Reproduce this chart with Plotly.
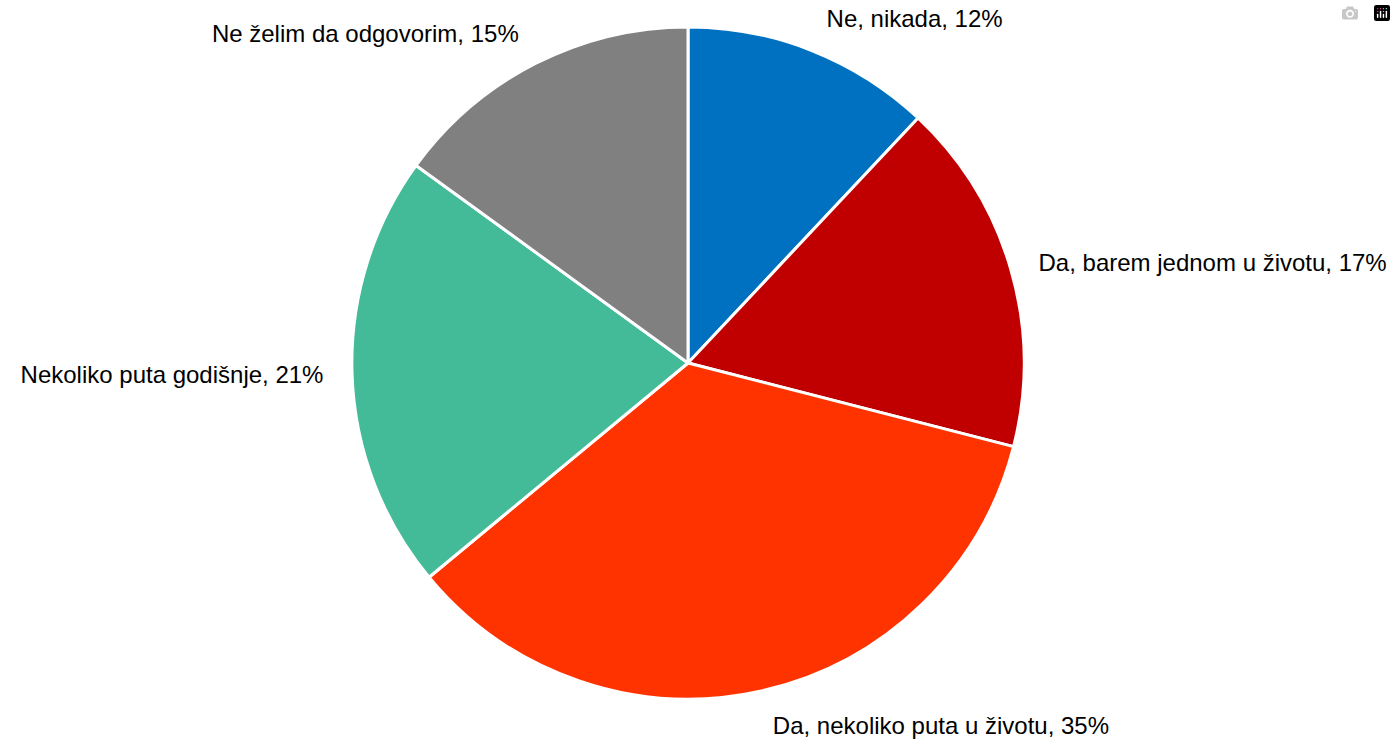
import plotly.graph_objects as go

categories = [
    "Ne, nikada",
    "Da, barem jednom u životu",
    "Da, nekoliko puta u životu",
    "Nekoliko puta godišnje",
    "Ne želim da odgovorim",
]
values = [12, 17, 35, 21, 15]
colors = ["#0070C0", "#C00000", "#FF3300", "#43BA98", "#808080"]

# plot area 720x720; visible pie is 676 px wide inside it, label-carrier pie uses full area
inset = 22 / 720

fig = go.Figure()

# invisible, slightly larger pie that carries the outside labels (places them a bit further out)
fig.add_trace(
    go.Pie(
        labels=categories,
        values=values,
        sort=False,
        direction="clockwise",
        rotation=0,
        domain=dict(x=[0, 1], y=[0, 1]),
        marker=dict(colors=["rgba(0,0,0,0)"] * len(values), line=dict(width=0)),
        textposition="outside",
        texttemplate="%{label}, %{value}%",
        textfont=dict(family="Liberation Sans, Arial, sans-serif", size=24, color="black"),
        showlegend=False,
        hoverinfo="skip",
    )
)

# visible pie
fig.add_trace(
    go.Pie(
        labels=categories,
        values=values,
        sort=False,
        direction="clockwise",
        rotation=0,
        domain=dict(x=[inset, 1 - inset], y=[inset, 1 - inset]),
        marker=dict(colors=colors, line=dict(color="white", width=3)),
        textinfo="none",
        showlegend=False,
        hoverinfo="label+value",
    )
)

fig.update_layout(
    width=1396,
    height=744,
    margin=dict(t=5, b=19, l=328, r=348, pad=0),
    paper_bgcolor="white",
    plot_bgcolor="white",
    showlegend=False,
)

fig.write_html("out.html", post_script="document.body.style.margin='0';")
